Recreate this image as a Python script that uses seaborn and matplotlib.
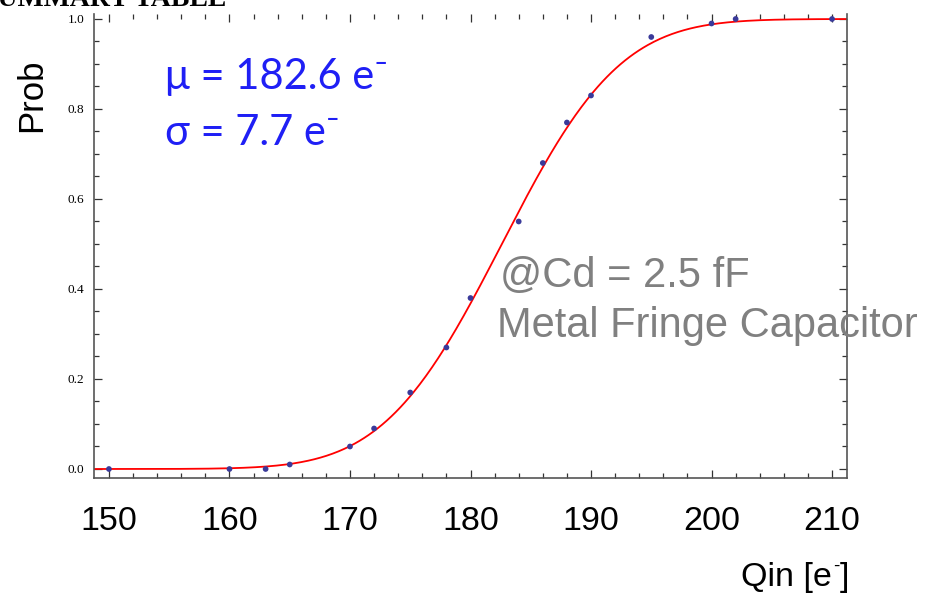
import math
import numpy as np
import matplotlib
matplotlib.use("Agg")
import matplotlib.pyplot as plt
from matplotlib.ticker import MultipleLocator
import seaborn as sns

# Measured hit probability vs injected charge
qin = [150, 160, 163, 165, 170, 172, 175, 178, 180, 184, 186, 188, 190, 195, 200, 202, 210]
prob = [0.0, 0.0, 0.0, 0.01, 0.05, 0.09, 0.17, 0.27, 0.38, 0.55, 0.68, 0.77, 0.83, 0.96, 0.99, 1.0, 1.0]

# Fitted error-function (S-curve) parameters
mu = 182.6
sigma = 7.7

x_ticks = [150, 160, 170, 180, 190, 200, 210]
y_ticks = [0.0, 0.2, 0.4, 0.6, 0.8, 1.0]

sns.set_style("ticks")
plt.rcParams["font.family"] = ["Liberation Sans", "DejaVu Sans"]
plt.rcParams["text.color"] = "black"
plt.rcParams["xtick.labelcolor"] = "black"
plt.rcParams["ytick.labelcolor"] = "black"

fig = plt.figure(figsize=(9.34, 5.94), dpi=100)
ax = fig.add_axes([94 / 934, 1 - 478 / 594, (847 - 94) / 934, (478 - 14) / 594])

xlo, xhi = 148.76, 211.24
xs = np.linspace(xlo, xhi, 500)
fit = 0.5 * (1 + np.array([math.erf((v - mu) / (sigma * math.sqrt(2))) for v in xs]))

sns.lineplot(x=xs, y=fit, ax=ax, color="red", lw=1.3, zorder=2)
sns.scatterplot(x=qin, y=prob, ax=ax, color="#3a3a9a", s=17, edgecolor="none", zorder=3)

ax.set_xlim(xlo, xhi)
ax.set_ylim(-0.02, 1.0111)

ax.xaxis.set_minor_locator(MultipleLocator(2))
ax.yaxis.set_minor_locator(MultipleLocator(0.05))
ax.set_xticks(x_ticks)
ax.set_xticklabels([str(t) for t in x_ticks])
ax.set_yticks(y_ticks)
ax.set_yticklabels([f"{t:.1f}" for t in y_ticks])

for side in ("left", "right", "bottom"):
    ax.spines[side].set_color("#555555")
    ax.spines[side].set_linewidth(1.2)
ax.spines["top"].set_visible(False)

ax.tick_params(axis="both", which="both", direction="in", top=True, right=True,
               color="#333333", width=0.9)
ax.tick_params(axis="both", which="major", length=6)
ax.tick_params(axis="both", which="minor", length=3.5)
ax.tick_params(axis="x", which="major", labelsize=24.5, pad=20)
ax.tick_params(axis="y", which="major", labelsize=9.5, pad=7)
for lab in ax.get_yticklabels():
    lab.set_fontfamily("Liberation Serif")

ax.set_xlabel("")
ax.set_ylabel("")

renderer = fig.canvas.get_renderer()


def text_with_sup_dash(x_px, y_px, head, tail, size, color, family):
    """Draw head + small raised dash + tail, baseline at (x_px, y_px) from top-left."""
    t1 = fig.text(x_px / 934, 1 - y_px / 594, head, fontsize=size, color=color,
                  family=family, ha="left", va="baseline")
    bb = t1.get_window_extent(renderer)
    x2 = bb.x1 + 1
    t2 = fig.text(x2 / 934, 1 - (y_px - size * 0.62) / 594, "-", fontsize=size * 0.55,
                  color=color, family=family, ha="left", va="baseline")
    bb2 = t2.get_window_extent(renderer)
    if tail:
        fig.text((bb2.x1 + 1) / 934, 1 - y_px / 594, tail, fontsize=size, color=color,
                 family=family, ha="left", va="baseline")


text_with_sup_dash(741, 586, "Qin [e", "]", 24.5, "black", ["Liberation Sans"])
fig.text(32 / 934, 1 - 95 / 594, "Prob", fontsize=25, rotation=90, ha="center", va="center")

blue = "#1f1ff5"
txt_font = ["Lato", "Open Sans", "DejaVu Sans"]
fig.text(165 / 934, 1 - 89 / 594, "\u03bc = 182.6 e\u207b", fontsize=30, color=blue,
         family=txt_font, ha="left", va="baseline")
fig.text(165 / 934, 1 - 145 / 594, "\u03c3 = 7.7 e\u207b", fontsize=30, color=blue,
         family=txt_font, ha="left", va="baseline")

grey = "#808080"
fig.text(500 / 934, 1 - 287 / 594, "@Cd = 2.5 fF", fontsize=30, color=grey,
         ha="left", va="baseline")
fig.text(497 / 934, 1 - 337 / 594, "Metal Fringe Capacitor", fontsize=30, color=grey,
         ha="left", va="baseline")

fig.text(-18 / 934, 1 - 6 / 594, "SUMMARY TABLE", fontsize=20, fontweight="bold",
         family="Liberation Serif", ha="left", va="baseline")

fig.savefig("out.png", dpi=100)
